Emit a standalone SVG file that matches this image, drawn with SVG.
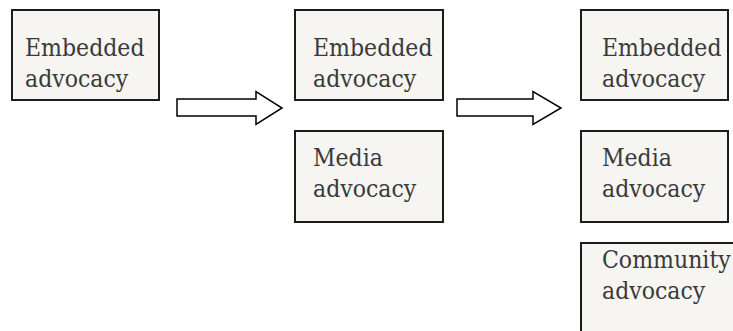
<svg xmlns="http://www.w3.org/2000/svg" width="733" height="331" viewBox="0 0 733 331">
  <style>
    .box { fill: #f6f5f1; stroke: #1c1c1c; stroke-width: 2; }
    .lbl { font-family: "DejaVu Serif", "Liberation Serif", serif; font-stretch: condensed; font-size: 24.5px; fill: #3a3a3a; }
    .arrow { fill: #ffffff; stroke: #000000; stroke-width: 1.5; stroke-linejoin: miter; }
  </style>
  <rect width="733" height="331" fill="#ffffff"/>

  <!-- Stage 1 -->
  <g id="stage1-embedded">
    <rect class="box" x="12" y="10" width="147" height="90"/>
    <text class="lbl" x="25" y="56">Embedded</text>
    <text class="lbl" x="25" y="87">advocacy</text>
  </g>

  <!-- Stage 2 -->
  <g id="stage2-embedded">
    <rect class="box" x="295" y="10" width="148" height="90"/>
    <text class="lbl" x="313" y="56">Embedded</text>
    <text class="lbl" x="313" y="87">advocacy</text>
  </g>
  <g id="stage2-media">
    <rect class="box" x="295" y="131" width="148" height="91"/>
    <text class="lbl" x="313" y="166">Media</text>
    <text class="lbl" x="313" y="197">advocacy</text>
  </g>

  <!-- Stage 3 -->
  <g id="stage3-embedded">
    <rect class="box" x="581" y="10" width="147" height="90"/>
    <text class="lbl" x="602" y="56">Embedded</text>
    <text class="lbl" x="602" y="87">advocacy</text>
  </g>
  <g id="stage3-media">
    <rect class="box" x="581" y="131" width="147" height="91"/>
    <text class="lbl" x="602" y="166">Media</text>
    <text class="lbl" x="602" y="197">advocacy</text>
  </g>
  <g id="stage3-community">
    <rect class="box" x="581" y="243" width="170" height="100"/>
    <text class="lbl" x="602" y="268">Community</text>
    <text class="lbl" x="602" y="299">advocacy</text>
  </g>

  <!-- Block arrows between stages -->
  <g id="connectors">
    <polygon class="arrow" points="177,99 256,99 256,91.5 282,108 256,124.5 256,116 177,116"/>
    <polygon class="arrow" points="457,99 533,99 533,91.5 561,108 533,124.5 533,116 457,116"/>
  </g>
</svg>
